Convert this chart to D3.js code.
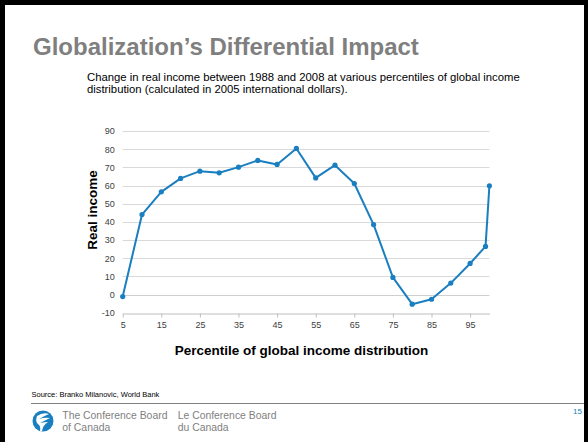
<!DOCTYPE html>
<html><head><meta charset="utf-8">
<script src="https://cdn.jsdelivr.net/npm/d3@7"></script>
<style>
html,body{margin:0;padding:0;background:#fff;}
svg{display:block;font-family:"Liberation Sans",Arial,sans-serif;}
</style></head>
<body>
<svg id="c" width="588" height="442"></svg>
<script>
const percentiles = [5,10,15,20,25,30,35,40,45,50,55,60,65,70,75,80,85,90,95,99,100];
const realIncome = [-1.1,44.0,56.5,63.9,67.9,67.0,70.1,73.8,71.6,80.4,64.2,71.2,61.1,38.5,9.4,-5.3,-2.6,6.3,17.1,26.5,59.8];
const xTicks = [5,15,25,35,45,55,65,75,85,95];
const yTicks = [-10,0,10,20,30,40,50,60,70,80,90];

const svg = d3.select("#c");
// frame
svg.append("rect").attr("x",0).attr("y",0).attr("width",588).attr("height",5).attr("fill","#000");
svg.append("rect").attr("x",0).attr("y",0).attr("width",5).attr("height",442).attr("fill","#000");
svg.append("rect").attr("x",584).attr("y",0).attr("width",4).attr("height",442).attr("fill","#000");

svg.append("text").attr("x",33).attr("y",54.5).attr("font-size",24).attr("font-weight","bold")
  .attr("fill","#7f7f7f").text("Globalization\u2019s Differential Impact");
svg.append("text").attr("x",87).attr("y",80.5).attr("font-size",11.3).attr("fill","#000")
  .text("Change in real income between 1988 and 2008 at various percentiles of global income");
svg.append("text").attr("x",87).attr("y",93).attr("font-size",11.3).attr("fill","#000")
  .text("distribution (calculated in 2005 international dollars).");

const x = d3.scaleLinear().domain([5,100]).range([122.7,489.4]);
const y = d3.scaleLinear().domain([-10,90]).range([312.7,131]);

// gridlines
svg.append("g").selectAll("line").data(yTicks.filter(d=>d>-10)).join("line")
  .attr("x1",x(5)).attr("x2",x(100)).attr("y1",d=>Math.round(y(d))+0.5).attr("y2",d=>Math.round(y(d))+0.5)
  .attr("stroke",d=>d===0?"#cfcfcf":"#d9d9d9").attr("stroke-width",1);

// x axis
const xAxis = svg.append("g").attr("transform",`translate(0,${Math.round(y(-10))+0.5})`)
  .call(d3.axisBottom(x).tickValues(xTicks).tickFormat(d=>String(d)).tickSize(4).tickPadding(4).tickSizeOuter(0));
xAxis.select(".domain").attr("stroke","#bfbfbf");
xAxis.selectAll(".tick line").attr("stroke","#bfbfbf");
xAxis.selectAll("text").attr("font-size",9).attr("fill","#404040").attr("font-family","Liberation Sans, Arial, sans-serif");

// y axis labels
const yAxis = svg.append("g").attr("transform",`translate(${x(5)},0)`)
  .call(d3.axisLeft(y).tickValues(yTicks).tickFormat(d=>String(d)).tickSize(0).tickPadding(8));
yAxis.select(".domain").remove();
yAxis.selectAll("text").attr("font-size",9).attr("fill","#404040").attr("font-family","Liberation Sans, Arial, sans-serif");

// line
const line = d3.line().x((d,i)=>x(percentiles[i])).y(d=>y(d));
svg.append("path").datum(realIncome).attr("d",line).attr("fill","none")
  .attr("stroke","#1a7fc1").attr("stroke-width",2).attr("stroke-linejoin","round");
svg.append("g").selectAll("circle").data(realIncome).join("circle")
  .attr("cx",(d,i)=>x(percentiles[i])).attr("cy",d=>y(d)).attr("r",2.6).attr("fill","#1a7fc1");

// axis titles
svg.append("text").attr("transform","translate(97,210) rotate(-90)").attr("text-anchor","middle")
  .attr("font-size",13.5).attr("font-weight","bold").attr("fill","#000").text("Real income");
svg.append("text").attr("x",301.5).attr("y",354.5).attr("text-anchor","middle")
  .attr("font-size",13.5).attr("font-weight","bold").attr("fill","#000").text("Percentile of global income distribution");

// footer
svg.append("text").attr("x",31.5).attr("y",396.5).attr("font-size",7.5).attr("fill","#000")
  .text("Source: Branko Milanovic, World Bank");
svg.append("line").attr("x1",31).attr("x2",584).attr("y1",403.5).attr("y2",403.5).attr("stroke","#7f7f7f");
svg.append("text").attr("x",62.3).attr("y",418.5).attr("font-size",10.4).attr("fill","#7f7f7f").text("The Conference Board");
svg.append("text").attr("x",62.3).attr("y",430.5).attr("font-size",10.4).attr("fill","#7f7f7f").text("of Canada");
svg.append("text").attr("x",177.7).attr("y",418.5).attr("font-size",10.4).attr("fill","#7f7f7f").text("Le Conference Board");
svg.append("text").attr("x",177.7).attr("y",430.5).attr("font-size",10.4).attr("fill","#7f7f7f").text("du Canada");
svg.append("text").attr("x",582).attr("y",414).attr("text-anchor","end").attr("font-size",8).attr("fill","#1a7fc1").text("15");

// logo
const lg = svg.append("g").attr("transform","translate(43,421)");
lg.append("circle").attr("r",10.5).attr("fill","#1a7fc1");
lg.append("path").attr("d","M-6,-5 Q0,-9 6,-7 Q1,-5 -4,-2 Q2,-4 7,-3 Q1,0 -3,2 Q2,1 5,1 Q0,4 -1,10 L-3,10 Q-2,5 -5,3 Q-8,1 -6,-5 Z")
  .attr("fill","#fff");
</script>
</body></html>
